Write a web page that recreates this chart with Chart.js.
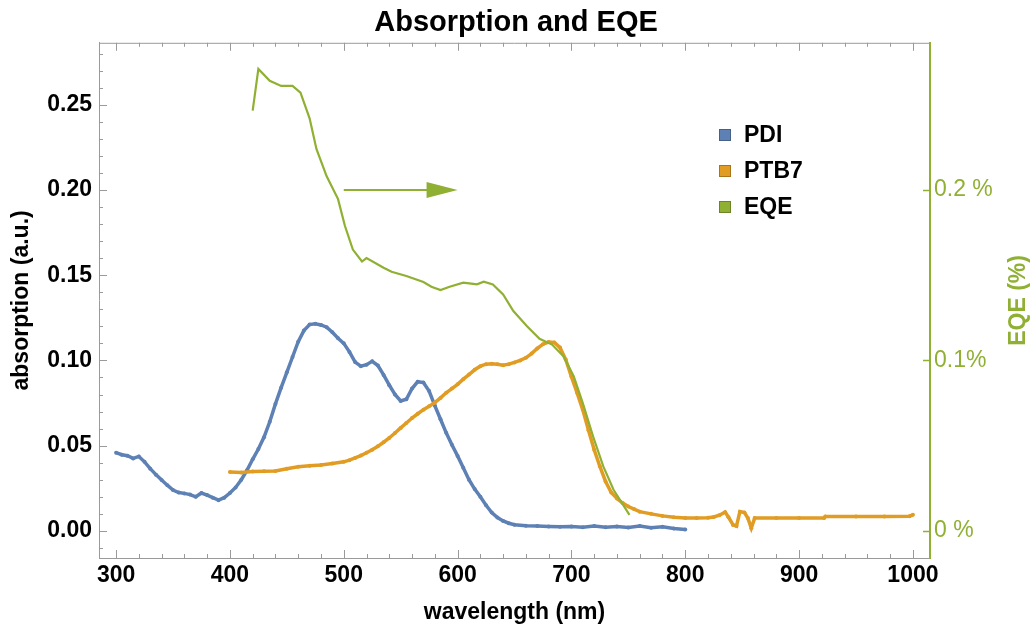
<!DOCTYPE html>
<html>
<head>
<meta charset="utf-8">
<title>Absorption and EQE</title>
<script src="https://cdn.jsdelivr.net/npm/chart.js@4.4.1/dist/chart.umd.min.js"></script>
<style>
  html, body { margin: 0; padding: 0; background: #fff; }
  #wrap { width: 1032px; height: 626px; }
</style>
</head>
<body>
<div id="wrap"><canvas id="myChart"></canvas></div>
<script>
// PDI absorption (blue)
const pdi_wl = [300, 305, 310, 315, 320, 325, 330, 335, 340, 345, 350, 355, 360, 365, 370, 375, 380, 385, 390, 395,
  400, 405, 410, 415, 420, 425, 430, 435, 440, 445, 450, 455, 460, 465, 470, 475, 480, 485, 490, 495,
  500, 505, 510, 515, 520, 525, 530, 535, 540, 545, 550, 555, 560, 565, 570, 575, 580, 585, 590, 595,
  600, 605, 610, 615, 620, 625, 630, 635, 640, 645, 650, 660, 670, 680, 690, 700, 710, 720, 730, 740,
  750, 760, 770, 780, 790, 800];
const pdi_abs = [0.0459, 0.0447, 0.0441, 0.0425, 0.0437, 0.0405, 0.0365, 0.0330, 0.0298, 0.0268, 0.0240, 0.0225, 0.0220, 0.0213, 0.0200, 0.0222, 0.0210, 0.0195, 0.0180, 0.0195,
  0.0222, 0.0255, 0.0300, 0.0355, 0.0420, 0.0480, 0.0550, 0.0640, 0.0745, 0.0840, 0.0930, 0.1020, 0.1110, 0.1175, 0.1210, 0.1215, 0.1208, 0.1195, 0.1165, 0.1130,
  0.1100, 0.1050, 0.0990, 0.0966, 0.0975, 0.0995, 0.0970, 0.0915, 0.0855, 0.0800, 0.0762, 0.0772, 0.0835, 0.0875, 0.0870, 0.0820, 0.0735, 0.0655, 0.0575, 0.0505,
  0.0440, 0.0370, 0.0300, 0.0245, 0.0200, 0.0150, 0.0108, 0.0078, 0.0058, 0.0045, 0.0036, 0.0030, 0.0028, 0.0026, 0.0024, 0.0026, 0.0022, 0.0028, 0.0022, 0.0026,
  0.0020, 0.0028, 0.0018, 0.0024, 0.0014, 0.0008];

// PTB7 absorption (orange)
const ptb7_wl = [400, 410, 420, 430, 440, 450, 460, 470, 480, 490, 500, 505, 510, 515, 520, 525, 530, 535, 540, 545,
  550, 555, 560, 565, 570, 575, 580, 585, 590, 595, 600, 605, 610, 615, 620, 625, 630, 635, 640, 645,
  650, 655, 660, 665, 670, 675, 680, 685, 690, 695, 700, 705, 710, 715, 720, 725, 730, 735, 740, 745,
  750, 755, 760, 770, 780, 790, 800, 810, 820, 825, 830, 835, 838, 842, 845, 848, 852, 855, 858, 861,
  880, 900, 922, 923, 950, 975, 997, 1000];
const ptb7_abs = [0.0345, 0.0342, 0.0348, 0.0350, 0.0352, 0.0365, 0.0376, 0.0382, 0.0386, 0.0395, 0.0405, 0.0415, 0.0428, 0.0442, 0.0458, 0.0476, 0.0496, 0.0520, 0.0545, 0.0574,
  0.0604, 0.0633, 0.0662, 0.0687, 0.0711, 0.0731, 0.0752, 0.0780, 0.0810, 0.0835, 0.0860, 0.0890, 0.0917, 0.0945, 0.0966, 0.0978, 0.0980, 0.0978, 0.0972, 0.0978,
  0.0988, 0.1000, 0.1015, 0.1040, 0.1070, 0.1095, 0.1108, 0.1105, 0.1075, 0.1005, 0.0905, 0.0810, 0.0710, 0.0590, 0.0476, 0.0378, 0.0290, 0.0225, 0.0190, 0.0163,
  0.0143, 0.0128, 0.0113, 0.0100, 0.0088, 0.0080, 0.0076, 0.0075, 0.0077, 0.0082, 0.0092, 0.0110, 0.0080, 0.0035, 0.0028, 0.0113, 0.0108, 0.0075, 0.0016, 0.0075,
  0.0075, 0.0075, 0.0076, 0.0084, 0.0084, 0.0085, 0.0086, 0.0094];

// EQE in % (green, right axis)
const eqe_wl = [420, 425, 435, 445, 455, 462, 470, 476, 485, 495, 501, 508, 516, 520, 535, 542, 555, 570, 577, 585,
  593, 605, 612, 617, 623, 631, 640, 649, 661, 672, 683, 693, 702, 710, 719, 728, 737, 751];
const eqe_pct = [0.2465, 0.2710, 0.2640, 0.2610, 0.2610, 0.2570, 0.2420, 0.2240, 0.2080, 0.1946, 0.1790, 0.1650, 0.1580, 0.1600, 0.1544, 0.1520, 0.1495, 0.1460, 0.1432, 0.1413,
  0.1432, 0.1456, 0.1450, 0.1446, 0.1462, 0.1446, 0.1387, 0.1290, 0.1200, 0.1127, 0.1093, 0.1025, 0.0907, 0.0750, 0.0554, 0.0378, 0.0241, 0.0094];

const seriesNames = ['PDI', 'PTB7', 'EQE'];
const absTicks = [0, 0.05, 0.10, 0.15, 0.20, 0.25];
const eqeTicks = [0, 0.1, 0.2];
const eqeTickLabels = ['0 %', '0.1%', '0.2 %'];
// arrow pointing at the EQE axis: [wavelength, EQE %]
const arrowFrom = [500, 0.2];
const arrowTo = [600, 0.2];

const blue = '#5E81B5', orange = '#E19C24', green = '#8FB032';
const frameColor = '#9a9a9a';
const fam = '"Liberation Sans", Arial, sans-serif';

const toXY = (xs, ys) => xs.map((x, i) => ({x: x, y: ys[i]}));

const frameTicks = {
  id: 'frameTicks',
  afterDraw(chart) {
    const {ctx, chartArea: a, scales} = chart;
    const x = scales.x, y = scales.y, y2 = scales.y2;
    ctx.save();
    ctx.strokeStyle = frameColor;
    ctx.lineWidth = 1;
    ctx.beginPath();
    ctx.moveTo(a.left, a.top + 0.5);
    ctx.lineTo(a.right, a.top + 0.5);
    for (let w = 300; w <= 1000; w += 20) {
      const px = Math.round(x.getPixelForValue(w)) + 0.5;
      const len = w % 100 === 0 ? 8 : 4;
      ctx.moveTo(px, a.bottom);
      ctx.lineTo(px, a.bottom - len);
      ctx.moveTo(px, a.top);
      ctx.lineTo(px, a.top + len);
    }
    for (let i = -1; i <= 28; i++) {
      const py = Math.round(y.getPixelForValue(i / 100)) + 0.5;
      const len = i % 5 === 0 ? 8 : 4;
      ctx.moveTo(a.left, py);
      ctx.lineTo(a.left + len, py);
    }
    ctx.stroke();

    ctx.strokeStyle = green;
    ctx.lineWidth = 1.5;
    ctx.beginPath();
    eqeTicks.forEach(v => {
      const py = Math.round(y2.getPixelForValue(v)) + 0.5;
      ctx.moveTo(a.right, py);
      ctx.lineTo(a.right - 7, py);
    });
    ctx.stroke();

    // right axis title, reading bottom to top
    ctx.fillStyle = green;
    ctx.font = 'bold 23px ' + fam;
    ctx.textAlign = 'center';
    ctx.textBaseline = 'middle';
    ctx.translate(1019, (a.top + a.bottom) / 2);
    ctx.rotate(-Math.PI / 2);
    ctx.fillText('EQE (%)', 0, 0);
    ctx.restore();
  }
};

const arrowPlugin = {
  id: 'arrowPlugin',
  afterDatasetsDraw(chart) {
    const {ctx, scales} = chart;
    const x0 = scales.x.getPixelForValue(arrowFrom[0]);
    const y0 = scales.y2.getPixelForValue(arrowFrom[1]);
    const x1 = scales.x.getPixelForValue(arrowTo[0]);
    const y1 = scales.y2.getPixelForValue(arrowTo[1]);
    ctx.save();
    ctx.strokeStyle = green;
    ctx.fillStyle = green;
    ctx.lineWidth = 2;
    ctx.beginPath();
    ctx.moveTo(x0, y0);
    ctx.lineTo(x1 - 28, y1);
    ctx.stroke();
    ctx.beginPath();
    ctx.moveTo(x1, y1);
    ctx.lineTo(x1 - 31, y1 - 8);
    ctx.lineTo(x1 - 31, y1 + 8);
    ctx.closePath();
    ctx.fill();
    ctx.restore();
  }
};

const boxLegend = {
  id: 'boxLegend',
  afterDraw(chart) {
    const {ctx} = chart;
    ctx.save();
    ctx.font = 'bold 23px ' + fam;
    ctx.textBaseline = 'middle';
    ctx.textAlign = 'left';
    chart.data.datasets.forEach((ds, i) => {
      const cy = 135 + i * 36;
      ctx.fillStyle = ds.borderColor;
      ctx.fillRect(719, cy - 6, 12, 12);
      ctx.strokeStyle = 'rgba(0,0,0,0.25)';
      ctx.lineWidth = 1;
      ctx.strokeRect(719.5, cy - 5.5, 11, 11);
      ctx.fillStyle = '#000';
      ctx.fillText(ds.label, 744, cy + 1);
    });
    ctx.restore();
  }
};

new Chart(document.getElementById('myChart'), {
  type: 'scatter',
  data: {
    datasets: [
      {
        label: seriesNames[0],
        data: toXY(pdi_wl, pdi_abs),
        yAxisID: 'y',
        showLine: true,
        borderColor: blue,
        backgroundColor: blue,
        borderWidth: 3.5,
        pointRadius: 2,
        pointBorderWidth: 0,
        order: 2
      },
      {
        label: seriesNames[1],
        data: toXY(ptb7_wl, ptb7_abs),
        yAxisID: 'y',
        showLine: true,
        borderColor: orange,
        backgroundColor: orange,
        borderWidth: 3.5,
        pointRadius: 2,
        pointBorderWidth: 0,
        order: 1
      },
      {
        label: seriesNames[2],
        data: toXY(eqe_wl, eqe_pct),
        yAxisID: 'y2',
        showLine: true,
        borderColor: green,
        backgroundColor: green,
        borderWidth: 2.2,
        pointRadius: 0,
        order: 0
      }
    ]
  },
  options: {
    responsive: true,
    maintainAspectRatio: false,
    animation: false,
    layout: { padding: 0 },
    plugins: {
      legend: { display: false },
      tooltip: { enabled: false },
      title: {
        display: true,
        text: 'Absorption and EQE',
        color: '#000',
        font: { family: fam, size: 29, weight: 'bold' },
        padding: { top: 6, bottom: 2 }
      }
    },
    scales: {
      x: {
        type: 'linear',
        position: 'bottom',
        min: 285,
        max: 1015,
        afterFit(s) { s.height = 68; },
        grid: { display: false, drawTicks: false },
        border: { display: true, color: frameColor, width: 1 },
        ticks: {
          stepSize: 100,
          includeBounds: false,
          padding: 4,
          color: '#000',
          font: { family: fam, size: 23, weight: 'bold' },
          maxRotation: 0,
          callback: v => String(v)
        },
        title: {
          display: true,
          text: 'wavelength (nm)',
          color: '#000',
          font: { family: fam, size: 23, weight: 'bold' },
          padding: { top: 0, bottom: 0 }
        }
      },
      y: {
        type: 'linear',
        position: 'left',
        min: -0.0159,
        max: 0.2863,
        afterFit(s) { s.width = 99; },
        afterBuildTicks(s) { s.ticks = absTicks.map(v => ({value: v})); },
        grid: { display: false, drawTicks: false },
        border: { display: true, color: frameColor, width: 1 },
        ticks: {
          padding: 7,
          color: '#000',
          font: { family: fam, size: 23, weight: 'bold' },
          callback: v => v.toFixed(2)
        },
        title: {
          display: true,
          text: 'absorption (a.u.)',
          color: '#000',
          font: { family: fam, size: 23, weight: 'bold' },
          padding: { top: 8, bottom: 0 }
        }
      },
      y2: {
        type: 'linear',
        position: 'right',
        min: -0.0159,
        max: 0.2863,
        afterFit(s) { s.width = 102; },
        afterBuildTicks(s) { s.ticks = eqeTicks.map(v => ({value: v})); },
        grid: { display: false, drawTicks: false },
        border: { display: true, color: green, width: 2 },
        ticks: {
          padding: 4,
          color: green,
          font: { family: fam, size: 23 },
          callback: (v, i) => eqeTickLabels[i]
        }
      }
    }
  },
  plugins: [frameTicks, arrowPlugin, boxLegend]
});
</script>
</body>
</html>
